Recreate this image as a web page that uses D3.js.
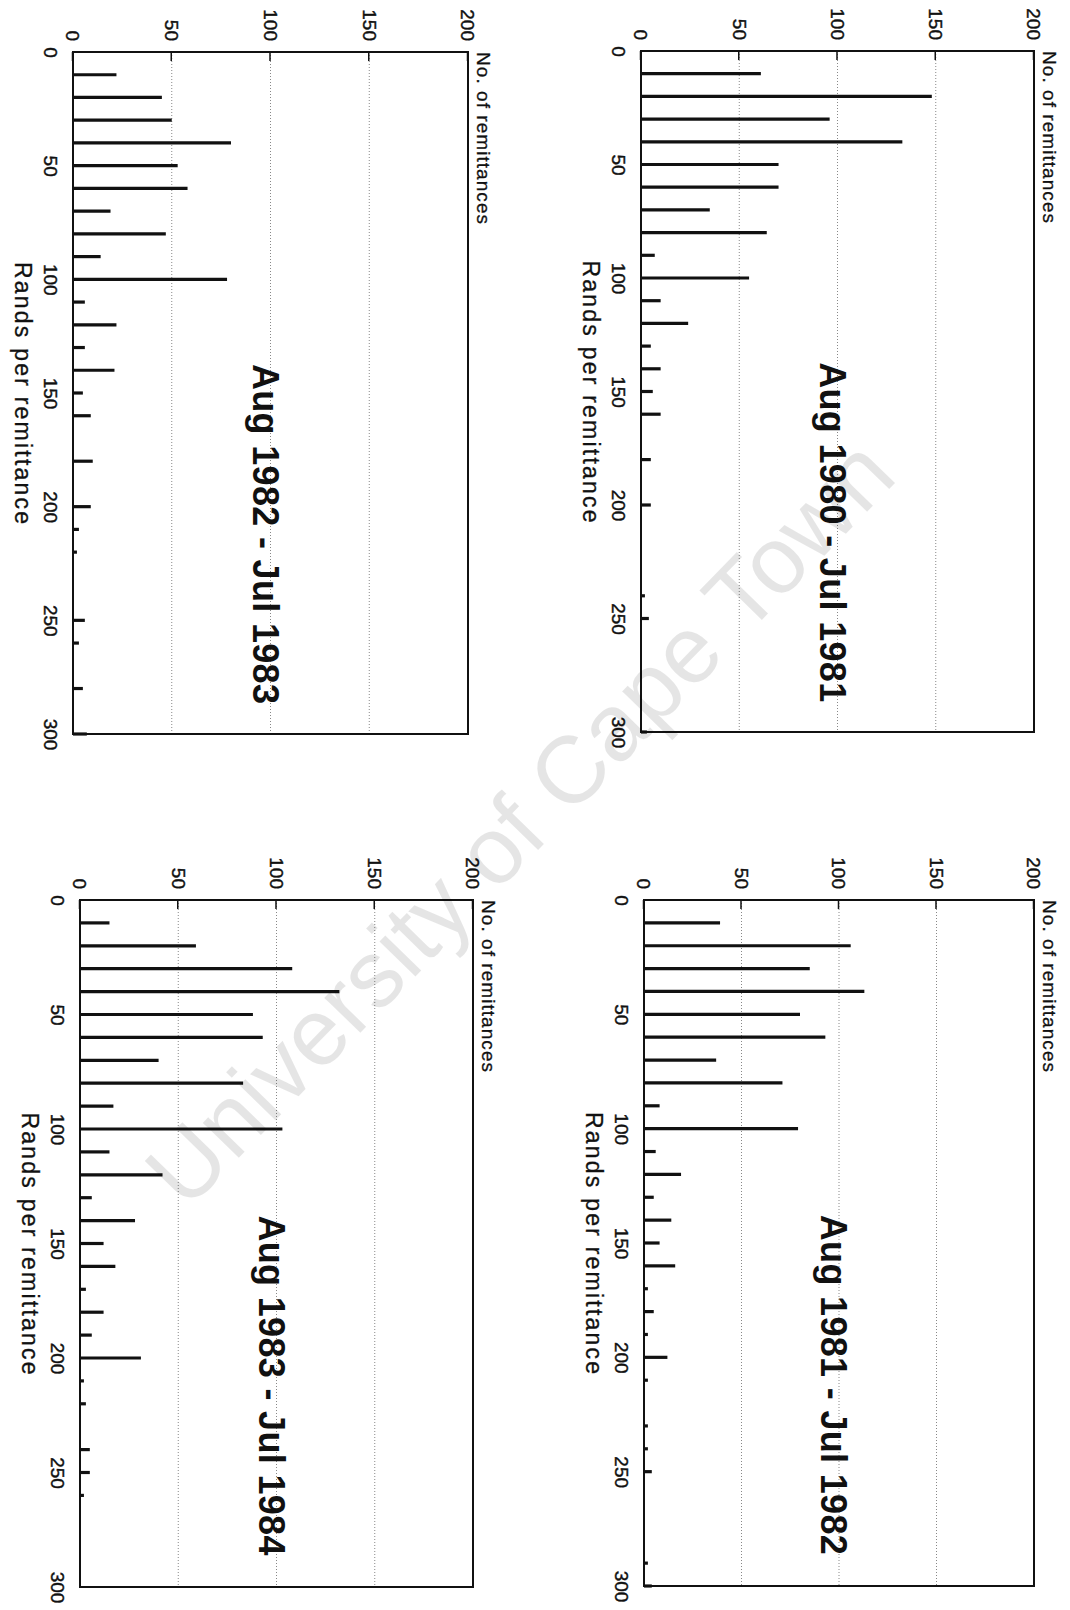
<!DOCTYPE html>
<html>
<head>
<meta charset="utf-8">
<title>Remittances</title>
<style>
body { margin: 0; background: #fff; }
.axis text { font-family: "Liberation Sans", Arial, sans-serif; font-size: 19px; fill: #111; stroke: #111; stroke-width: 0.4; }
.axis path { display: none; }
.axis line { stroke: #111; stroke-width: 1.5; }
.grid { stroke: #888; stroke-width: 1; stroke-dasharray: 1,2; }
.bar { stroke: #111; stroke-width: 3.2; }
.frame { fill: none; stroke: #111; stroke-width: 2; }
.ylab { font-family: "Liberation Sans", Arial, sans-serif; font-size: 19px; fill: #111; stroke: #111; stroke-width: 0.3; }
.xlab { font-family: "Liberation Sans", Arial, sans-serif; font-size: 23px; fill: #111; stroke: #111; stroke-width: 0.3; }
.title { font-family: "Liberation Sans", Arial, sans-serif; font-size: 36px; font-weight: bold; fill: #111; }
.watermark { font-family: "Liberation Sans", Arial, sans-serif; font-size: 95px; fill: #000; fill-opacity: 0.1; }
</style>
</head>
<body>
<script src="https://cdn.jsdelivr.net/npm/d3@7"></script>
<script>
var periods = ["Aug 1980 - Jul 1981", "Aug 1982 - Jul 1983", "Aug 1981 - Jul 1982", "Aug 1983 - Jul 1984"];
var randTicks = [0, 50, 100, 150, 200, 250, 300];
var countTicks = [0, 50, 100, 150, 200];
var gridTicks = [50, 100, 150];

var rands1980 = [10, 20, 30, 40, 50, 60, 70, 80, 90, 100, 110, 120, 130, 140, 150, 160, 180, 200, 240, 250, 300];
var counts1980 = [61, 148, 96, 133, 70, 70, 35, 64, 7, 55, 10, 24, 5, 10, 6, 10, 5, 5, 2, 4, 3];

var rands1981 = [10, 20, 30, 40, 50, 60, 70, 80, 90, 100, 110, 120, 130, 140, 150, 160, 170, 180, 190, 200, 210, 230, 240, 250, 290, 300];
var counts1981 = [39, 106, 85, 113, 80, 93, 37, 71, 8, 79, 6, 19, 5, 14, 8, 16, 2, 5, 2, 12, 2, 2, 2, 4, 2, 4];

var rands1982 = [10, 20, 30, 40, 50, 60, 70, 80, 90, 100, 110, 120, 130, 140, 150, 160, 180, 200, 210, 220, 250, 260, 280, 300];
var counts1982 = [22, 45, 50, 80, 53, 58, 19, 47, 14, 78, 6, 22, 6, 21, 5, 9, 10, 9, 3, 2, 6, 3, 5, 7];

var rands1983 = [10, 20, 30, 40, 50, 60, 70, 80, 90, 100, 110, 120, 130, 140, 150, 160, 170, 180, 190, 200, 210, 220, 240, 250, 260];
var counts1983 = [15, 59, 108, 132, 88, 93, 40, 83, 17, 103, 15, 42, 6, 28, 12, 18, 3, 12, 6, 31, 2, 3, 5, 5, 2];

// page layout: each panel is drawn upright, then turned 90deg clockwise like the scan
var panels = [
	{ title: periods[0], rands: rands1980, counts: counts1980, left: 641, right: 1034, top: 51, bottom: 732 },
	{ title: periods[1], rands: rands1982, counts: counts1982, left: 73, right: 468, top: 52, bottom: 734 },
	{ title: periods[2], rands: rands1981, counts: counts1981, left: 644, right: 1034, top: 900, bottom: 1586 },
	{ title: periods[3], rands: rands1983, counts: counts1983, left: 80, right: 473, top: 900, bottom: 1587 }
];

var svg = d3.select("body")
	.append("svg")
	.attr("width", 1070)
	.attr("height", 1610);

panels.forEach(function(p) {
	var w = p.bottom - p.top;
	var h = p.right - p.left;
	var x = d3.scaleLinear().domain([0, 300]).range([0, w]);
	var y = d3.scaleLinear().domain([0, 200]).range([h, 0]);

	var g = svg.append("g")
		.attr("transform", "translate(" + p.right + "," + p.top + ") rotate(90)");

	g.selectAll(".grid")
		.data(gridTicks)
		.enter()
		.append("line")
		.attr("class", "grid")
		.attr("x1", 0)
		.attr("x2", w)
		.attr("y1", function(d) { return y(d); })
		.attr("y2", function(d) { return y(d); });

	g.append("g")
		.attr("class", "axis")
		.call(d3.axisLeft(y).tickValues(countTicks).tickSizeInner(-9).tickSizeOuter(0).tickPadding(11));

	g.append("g")
		.attr("class", "axis")
		.attr("transform", "translate(0," + h + ")")
		.call(d3.axisBottom(x).tickValues(randTicks).tickSize(0).tickPadding(16));

	g.selectAll(".bar")
		.data(p.rands)
		.enter()
		.append("line")
		.attr("class", "bar")
		.attr("x1", function(d) { return x(d); })
		.attr("x2", function(d) { return x(d); })
		.attr("y1", y(0))
		.attr("y2", function(d, i) { return y(p.counts[i]); });

	g.append("rect")
		.attr("class", "frame")
		.attr("width", w)
		.attr("height", h);

	g.append("text")
		.attr("class", "ylab")
		.attr("x", 0)
		.attr("y", -9)
		.attr("textLength", 172)
		.attr("lengthAdjust", "spacing")
		.text("No. of remittances");

	g.append("text")
		.attr("class", "xlab")
		.attr("text-anchor", "middle")
		.attr("x", x(150))
		.attr("y", h + 58)
		.attr("textLength", 262)
		.attr("lengthAdjust", "spacing")
		.text("Rands per remittance");

	g.append("text")
		.attr("class", "title")
		.attr("text-anchor", "middle")
		.attr("x", x(212))
		.attr("y", y(91))
		.attr("textLength", 340)
		.attr("lengthAdjust", "spacing")
		.text(p.title);
});

svg.append("text")
	.attr("class", "watermark")
	.attr("text-anchor", "middle")
	.attr("transform", "translate(519,822) rotate(-45.8)")
	.attr("dy", "0.35em")
	.text("University of Cape Town");
</script>
</body>
</html>
